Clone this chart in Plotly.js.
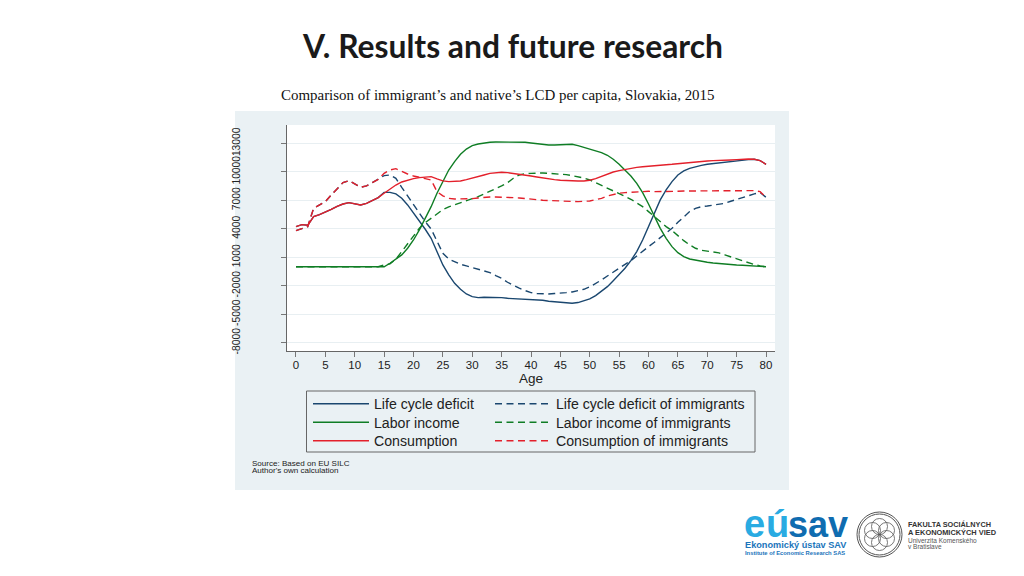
<!DOCTYPE html>
<html><head><meta charset="utf-8">
<script src="https://cdn.plot.ly/plotly-3.0.1.min.js"></script>
<style>html,body{margin:0;padding:0;background:#fff}#c{width:1024px;height:576px}</style>
</head><body><div id="c"></div>
<script>
const ages=[0,1,2,3,4,5,6,7,8,9,10,11,12,13,14,15,16,17,18,19,20,21,22,23,24,25,26,27,28,29,30,31,32,33,34,35,36,37,38,39,40,41,42,43,44,45,46,47,48,49,50,51,52,53,54,55,56,57,58,59,60,61,62,63,64,65,66,67,68,69,70,71,72,73,74,75,76,77,78,79,80];
const lifeCycleDeficit=[4230,4440,4370,5280,5490,5740,6050,6370,6610,6750,6650,6510,6680,6970,7280,7840,7840,7670,7210,6510,5700,4860,3950,3000,1600,190,-860,-1740,-2370,-2860,-3140,-3250,-3210,-3210,-3210,-3250,-3320,-3350,-3390,-3420,-3460,-3490,-3530,-3630,-3700,-3740,-3810,-3840,-3770,-3600,-3390,-3040,-2610,-2090,-1460,-820,-160,650,1600,2820,4230,5630,7040,8090,8970,9670,10090,10370,10540,10680,10790,10860,10930,11040,11140,11210,11250,11280,11320,11180,10790];
const lifeCycleDeficitImm=[3810,4050,4230,6160,6510,6860,7560,8260,8860,9070,8720,8370,8510,8860,9210,9600,9670,9320,8370,7460,6510,5630,4750,3980,2650,1420,820,540,260,90,-90,-230,-370,-610,-930,-1210,-1630,-1980,-2260,-2510,-2720,-2820,-2860,-2860,-2820,-2790,-2720,-2650,-2540,-2370,-2120,-1770,-1390,-970,-580,-160,260,650,1140,1670,2120,2580,3040,3530,4050,4680,5280,5810,6160,6330,6400,6470,6540,6680,6900,7110,7320,7530,7670,7810,7320];
const laborIncome=[0,0,0,0,0,0,0,0,0,0,0,0,0,0,0,0,370,790,1250,1950,2820,3880,5110,6330,7740,8970,10190,11070,11840,12400,12760,12930,13040,13110,13140,13140,13140,13110,13110,13110,13040,12970,12860,12830,12830,12860,12860,12900,12760,12580,12440,12230,12020,11740,11320,10790,10190,9560,8790,7810,6610,5280,4050,3000,2120,1490,1070,820,680,580,470,400,330,300,230,190,160,120,90,50,0];
const laborIncomeImm=[0,0,0,0,0,0,0,0,0,0,0,0,0,0,0,190,300,790,1600,2470,3350,4050,4650,5110,5630,6020,6300,6540,6750,6970,7180,7390,7670,7910,8230,8510,8860,9320,9670,9810,9840,9880,9880,9840,9810,9770,9700,9600,9490,9350,9140,8860,8610,8330,8050,7740,7420,7110,6750,6330,5810,5280,4750,4230,3810,3250,2750,2300,1950,1740,1630,1560,1460,1250,1040,820,610,400,230,90,0];
const consumption=[4230,4440,4370,5280,5490,5740,6050,6370,6610,6750,6650,6510,6680,6970,7280,7740,8190,8610,8930,9140,9280,9390,9420,9490,9250,9040,8970,8970,9040,9180,9320,9490,9670,9840,9910,9950,9910,9840,9770,9670,9560,9460,9350,9250,9180,9110,9070,9040,9040,9040,9110,9280,9530,9770,9980,10120,10260,10370,10470,10540,10610,10680,10720,10750,10790,10860,10930,10970,11000,11110,11140,11180,11180,11210,11250,11280,11320,11350,11320,11180,10790];
const consumptionImm=[3810,4050,4230,6160,6510,6860,7560,8260,8860,9070,8720,8370,8510,8860,9210,9840,10190,10330,10020,9770,9560,9390,9280,9140,7910,7460,7210,7140,7140,7140,7180,7250,7320,7350,7350,7350,7320,7280,7250,7210,7110,7070,7000,6970,6930,6900,6900,6860,6860,6900,6930,7070,7210,7460,7630,7740,7810,7840,7910,7950,7950,7910,7910,7880,7910,7950,7980,7980,8020,8020,8050,8050,8050,8050,8020,8020,8020,8020,8020,7910,7320];
const yTicks=[-8000,-5000,-2000,1000,4000,7000,10000,13000];
const xTicks=[0,5,10,15,20,25,30,35,40,45,50,55,60,65,70,75,80];

const NAVY='#1a476f',GREEN='#0f7d24',RED='#e3202b',DASH='7px,4.5px';
const mk=(y,name,color,dash,legend)=>({x:ages,y,name,legend,type:'scatter',mode:'lines',line:{color,width:1.4,dash:dash?DASH:'solid'}});
const traces=[
 mk(lifeCycleDeficit,'Life cycle deficit',NAVY,false,'legend'),
 mk(lifeCycleDeficitImm,'Life cycle deficit of immigrants',NAVY,true,'legend2'),
 mk(laborIncome,'Labor income',GREEN,false,'legend3'),
 mk(laborIncomeImm,'Labor income of immigrants',GREEN,true,'legend4'),
 mk(consumption,'Consumption',RED,false,'legend5'),
 mk(consumptionImm,'Consumption of immigrants',RED,true,'legend6')
];
const px=x=>x/1024, py=y=>1-y/576;
const SANS='"Liberation Sans",Arial,sans-serif';
const leg=(x,y)=>({x:px(x),y:py(y),xref:'paper',yref:'paper',xanchor:'left',yanchor:'middle',bgcolor:'rgba(0,0,0,0)',borderwidth:0,itemwidth:56,itemclick:false,font:{family:SANS,size:14.15,color:'#222'}});
const ann=(x,y,text,size,color,family,extra)=>Object.assign({xref:'paper',yref:'paper',x:px(x),y:py(y),text,showarrow:false,xanchor:'left',yanchor:'middle',font:{size,color,family}},extra||{});
const circ=(cx,cy,r,w)=>({type:'circle',xref:'paper',yref:'paper',x0:px(cx-r),x1:px(cx+r),y0:py(cy+r),y1:py(cy-r),line:{color:'#555',width:w},fillcolor:'rgba(0,0,0,0)'});
const rect=(x0,y0,x1,y1,fill,line)=>({type:'rect',xref:'paper',yref:'paper',x0:px(x0),x1:px(x1),y0:py(y1),y1:py(y0),fillcolor:fill,line:line||{width:0},layer:'below'});
const cx=879.5,cy=534.5;
const layout={
 width:1024,height:576,margin:{l:0,r:0,t:0,b:0},paper_bgcolor:'#fff',plot_bgcolor:'#fff',
 showlegend:true,
 legend:leg(308,404),legend2:leg(490,404),legend3:leg(308,422.5),legend4:leg(490,422.5),legend5:leg(308,441),legend6:leg(490,441),
 xaxis:{domain:[px(287),px(775)],range:[-1.53,81.53],tickvals:xTicks,ticktext:xTicks.map(String),ticks:'outside',ticklen:5,tickcolor:'#777',ticklabelstandoff:-2,showgrid:false,zeroline:false,showline:true,linecolor:'#666',linewidth:1,
   tickfont:{family:SANS,size:11.5,color:'#222'},title:{text:'Age',font:{family:SANS,size:13.5,color:'#222'},standoff:0},automargin:false},
 yaxis:{domain:[py(351),py(125)],range:[-8870,14930],tickvals:yTicks,ticktext:yTicks.map(String),tickangle:-90,ticks:'outside',ticklen:5,tickcolor:'#777',ticklabelstandoff:37,gridcolor:'#e8eff2',gridwidth:1,zeroline:false,showline:true,linecolor:'#666',linewidth:1,
   tickfont:{family:SANS,size:10.3,color:'#222'},automargin:false},
 shapes:[
  rect(235,111,789,490,'#eaf1f4'),
  rect(287,125,775,351,'#ffffff'),
  rect(306.5,391,755,452,'rgba(0,0,0,0)',{color:'#666',width:1}),
  circ(cx,cy,22.5,1),circ(cx,cy,20.5,1),
  circ(cx,cy-8,8,.8),circ(cx,cy+8,8,.8),circ(cx-7,cy-4,8,.8),circ(cx+7,cy-4,8,.8),circ(cx-7,cy+4,8,.8),circ(cx+7,cy+4,8,.8)
 ],
 annotations:[
  ann(512,46,'<b>V. Results and future research</b>',31.8,'#1a1a1a','Lato,sans-serif',{xanchor:'center'}),
  ann(279,95,'Comparison of immigrant’s and native’s LCD per capita, Slovakia, 2015',14.95,'#111','"Liberation Serif",serif'),
  ann(250,463,'Source: Based on EU SILC',8.05,'#222',SANS),
  ann(250,470,'Author\'s own calculation',8.05,'#222',SANS),
  ann(742,524,'<b>e</b>',38,'#29abe2',SANS),
  ann(764,524,'<b>ú</b>',38,'#29abe2',SANS),
  ann(786,524,'<b>sav</b>',36,'#0f6cb0',SANS),
  ann(743,545,'<b>Ekonomický ústav SAV</b>',9.2,'#1b75bb',SANS),
  ann(743,553,'<b>Institute of Economic Research SAS</b>',5.8,'#1b75bb',SANS),
  ann(906,524,'<b>FAKULTA SOCIÁLNYCH</b>',7.3,'#333',SANS),
  ann(906,532,'<b>A EKONOMICKÝCH VIED</b>',7.4,'#333',SANS),
  ann(906,540,'Univerzita Komenského',6.5,'#555',SANS),
  ann(906,546,'v Bratislave',6.5,'#555',SANS)
 ]
};
Plotly.newPlot('c',traces,layout,{displayModeBar:false,staticPlot:true});
</script></body></html>
